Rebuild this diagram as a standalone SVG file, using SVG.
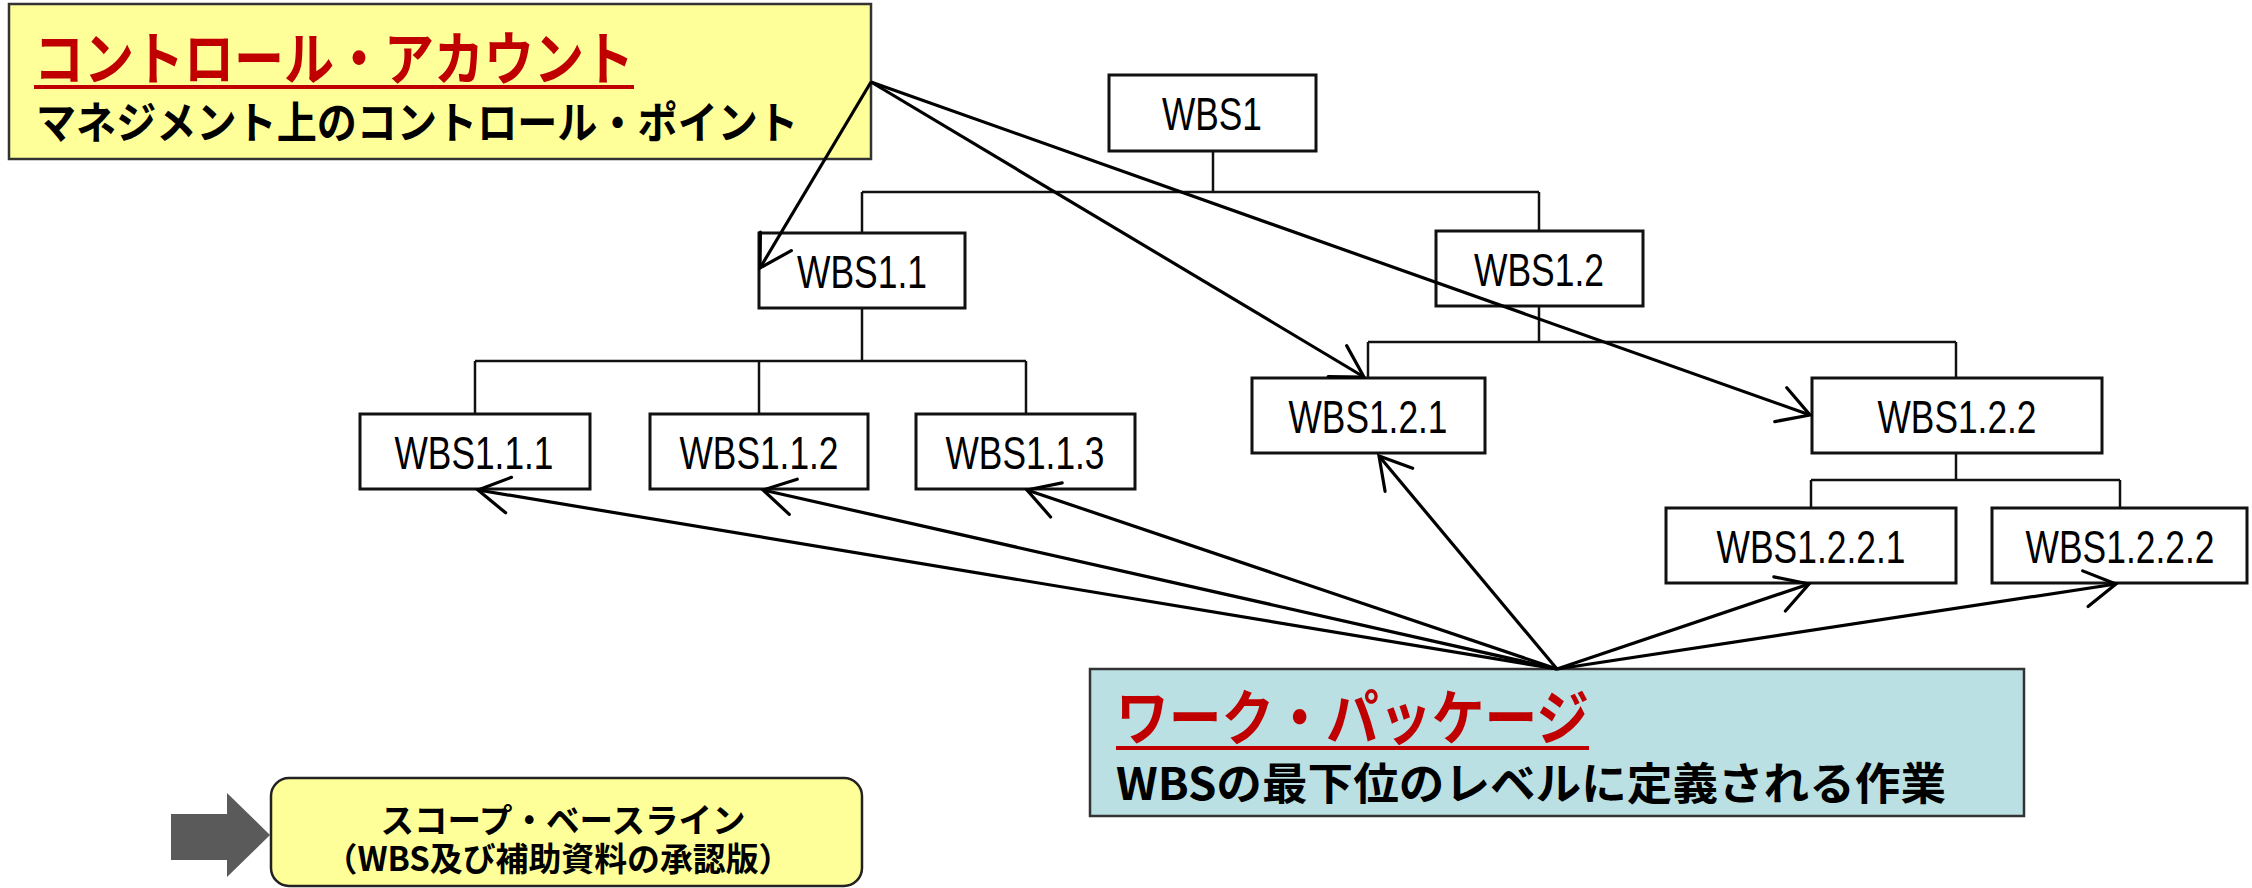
<svg xmlns="http://www.w3.org/2000/svg" width="2252" height="888" viewBox="0 0 2252 888">
<style>
.node rect{fill:#fff;stroke:#111;stroke-width:3}
.wbs{font-family:"Liberation Sans",Arial,sans-serif;font-size:46px;fill:#000;text-anchor:middle}
.tree line{stroke:#111;stroke-width:2.5}
.arr line{stroke:#000;stroke-width:3.2;marker-end:url(#ah)}
.jp{font-family:"Noto Sans CJK JP","Noto Sans CJK SC",sans-serif;font-weight:700}
.red{fill:#C00000}
.blk{fill:#000}
</style>
<defs>
<marker id="ah" markerUnits="userSpaceOnUse" markerWidth="50" markerHeight="50" viewBox="-40 -25 50 50" refX="0" refY="0" orient="auto" overflow="visible">
<path d="M-31,-18 L0,0 L-31,18" fill="none" stroke="#000" stroke-width="3.2" stroke-linecap="round" stroke-linejoin="miter"/>
</marker>
</defs>
<rect width="2252" height="888" fill="#fff"/>

<g id="control-account">
<rect x="9" y="4" width="862" height="155" fill="#FFFF99" stroke="#333" stroke-width="2.5"/>
<text class="jp red" x="34" y="80" font-size="58" textLength="600" lengthAdjust="spacingAndGlyphs">コントロール・アカウント</text>
<line x1="34" y1="87" x2="634" y2="87" stroke="#C00000" stroke-width="4"/>
<text class="jp blk" x="36" y="139" font-size="44" textLength="762" lengthAdjust="spacingAndGlyphs">マネジメント上のコントロール・ポイント</text>
</g>

<g id="tree-lines" class="tree">
<line x1="1213" y1="151" x2="1213" y2="192"/>
<line x1="862" y1="192" x2="1539" y2="192"/>
<line x1="862" y1="192" x2="862" y2="233"/>
<line x1="1539" y1="192" x2="1539" y2="231"/>
<line x1="862" y1="308" x2="862" y2="361"/>
<line x1="475" y1="361" x2="1026" y2="361"/>
<line x1="475" y1="361" x2="475" y2="414"/>
<line x1="759" y1="361" x2="759" y2="414"/>
<line x1="1026" y1="361" x2="1026" y2="414"/>
<line x1="1539" y1="306" x2="1539" y2="342"/>
<line x1="1368" y1="342" x2="1956" y2="342"/>
<line x1="1368" y1="342" x2="1368" y2="378"/>
<line x1="1956" y1="342" x2="1956" y2="378"/>
<line x1="1956" y1="453" x2="1956" y2="480"/>
<line x1="1811" y1="480" x2="2120" y2="480"/>
<line x1="1811" y1="480" x2="1811" y2="508"/>
<line x1="2120" y1="480" x2="2120" y2="508"/>
</g>

<g id="wbs1" class="node"><rect x="1109" y="75" width="207" height="76"/><text class="wbs" x="1212" y="130" textLength="100" lengthAdjust="spacingAndGlyphs">WBS1</text></g>
<g id="wbs1-1" class="node"><rect x="759" y="233" width="206" height="75"/><text class="wbs" x="862" y="288" textLength="130" lengthAdjust="spacingAndGlyphs">WBS1.1</text></g>
<g id="wbs1-2" class="node"><rect x="1436" y="231" width="207" height="75"/><text class="wbs" x="1539" y="286" textLength="130" lengthAdjust="spacingAndGlyphs">WBS1.2</text></g>
<g id="wbs1-1-1" class="node"><rect x="360" y="414" width="230" height="75"/><text class="wbs" x="474" y="469" textLength="159" lengthAdjust="spacingAndGlyphs">WBS1.1.1</text></g>
<g id="wbs1-1-2" class="node"><rect x="650" y="414" width="218" height="75"/><text class="wbs" x="759" y="469" textLength="159" lengthAdjust="spacingAndGlyphs">WBS1.1.2</text></g>
<g id="wbs1-1-3" class="node"><rect x="916" y="414" width="219" height="75"/><text class="wbs" x="1025" y="469" textLength="159" lengthAdjust="spacingAndGlyphs">WBS1.1.3</text></g>
<g id="wbs1-2-1" class="node"><rect x="1252" y="378" width="233" height="75"/><text class="wbs" x="1368" y="433" textLength="159" lengthAdjust="spacingAndGlyphs">WBS1.2.1</text></g>
<g id="wbs1-2-2" class="node"><rect x="1812" y="378" width="290" height="75"/><text class="wbs" x="1957" y="433" textLength="159" lengthAdjust="spacingAndGlyphs">WBS1.2.2</text></g>
<g id="wbs1-2-2-1" class="node"><rect x="1666" y="508" width="290" height="75"/><text class="wbs" x="1811" y="563" textLength="189" lengthAdjust="spacingAndGlyphs">WBS1.2.2.1</text></g>
<g id="wbs1-2-2-2" class="node"><rect x="1992" y="508" width="255" height="75"/><text class="wbs" x="2120" y="563" textLength="189" lengthAdjust="spacingAndGlyphs">WBS1.2.2.2</text></g>

<g id="work-package">
<rect x="1090" y="669" width="934" height="147" fill="#BBE0E3" stroke="#333" stroke-width="2.5"/>
<text class="jp red" x="1116" y="740" font-size="60" textLength="473" lengthAdjust="spacingAndGlyphs">ワーク・パッケージ</text>
<line x1="1116" y1="748" x2="1589" y2="748" stroke="#C00000" stroke-width="4"/>
<text class="jp blk" x="1116" y="800" font-size="44" textLength="830" lengthAdjust="spacingAndGlyphs">WBSの最下位のレベルに定義される作業</text>
</g>

<g id="connectors" class="arr">
<line x1="871" y1="82" x2="760" y2="268"/>
<line x1="871" y1="82" x2="1364" y2="377"/>
<line x1="871" y1="82" x2="1810" y2="415"/>
<line x1="1557" y1="669" x2="478" y2="490"/>
<line x1="1557" y1="669" x2="763" y2="490"/>
<line x1="1557" y1="669" x2="1027" y2="490"/>
<line x1="1557" y1="669" x2="1379" y2="456"/>
<line x1="1557" y1="669" x2="1809" y2="584"/>
<line x1="1557" y1="669" x2="2116" y2="584"/>
</g>

<g id="scope-baseline">
<polygon points="171,814 227,814 227,793 270,835 227,877 227,860 171,860" fill="#5A5A5A"/>
<rect x="271" y="778" width="591" height="108" rx="18" ry="18" fill="#FFFF99" stroke="#222" stroke-width="2.5"/>
<text class="jp blk" x="563" y="833" font-size="34" text-anchor="middle" textLength="365" lengthAdjust="spacingAndGlyphs">スコープ・ベースライン</text>
<text class="jp blk" x="558" y="871" font-size="33" text-anchor="middle" textLength="467" lengthAdjust="spacingAndGlyphs">（WBS及び補助資料の承認版）</text>
</g>
</svg>
